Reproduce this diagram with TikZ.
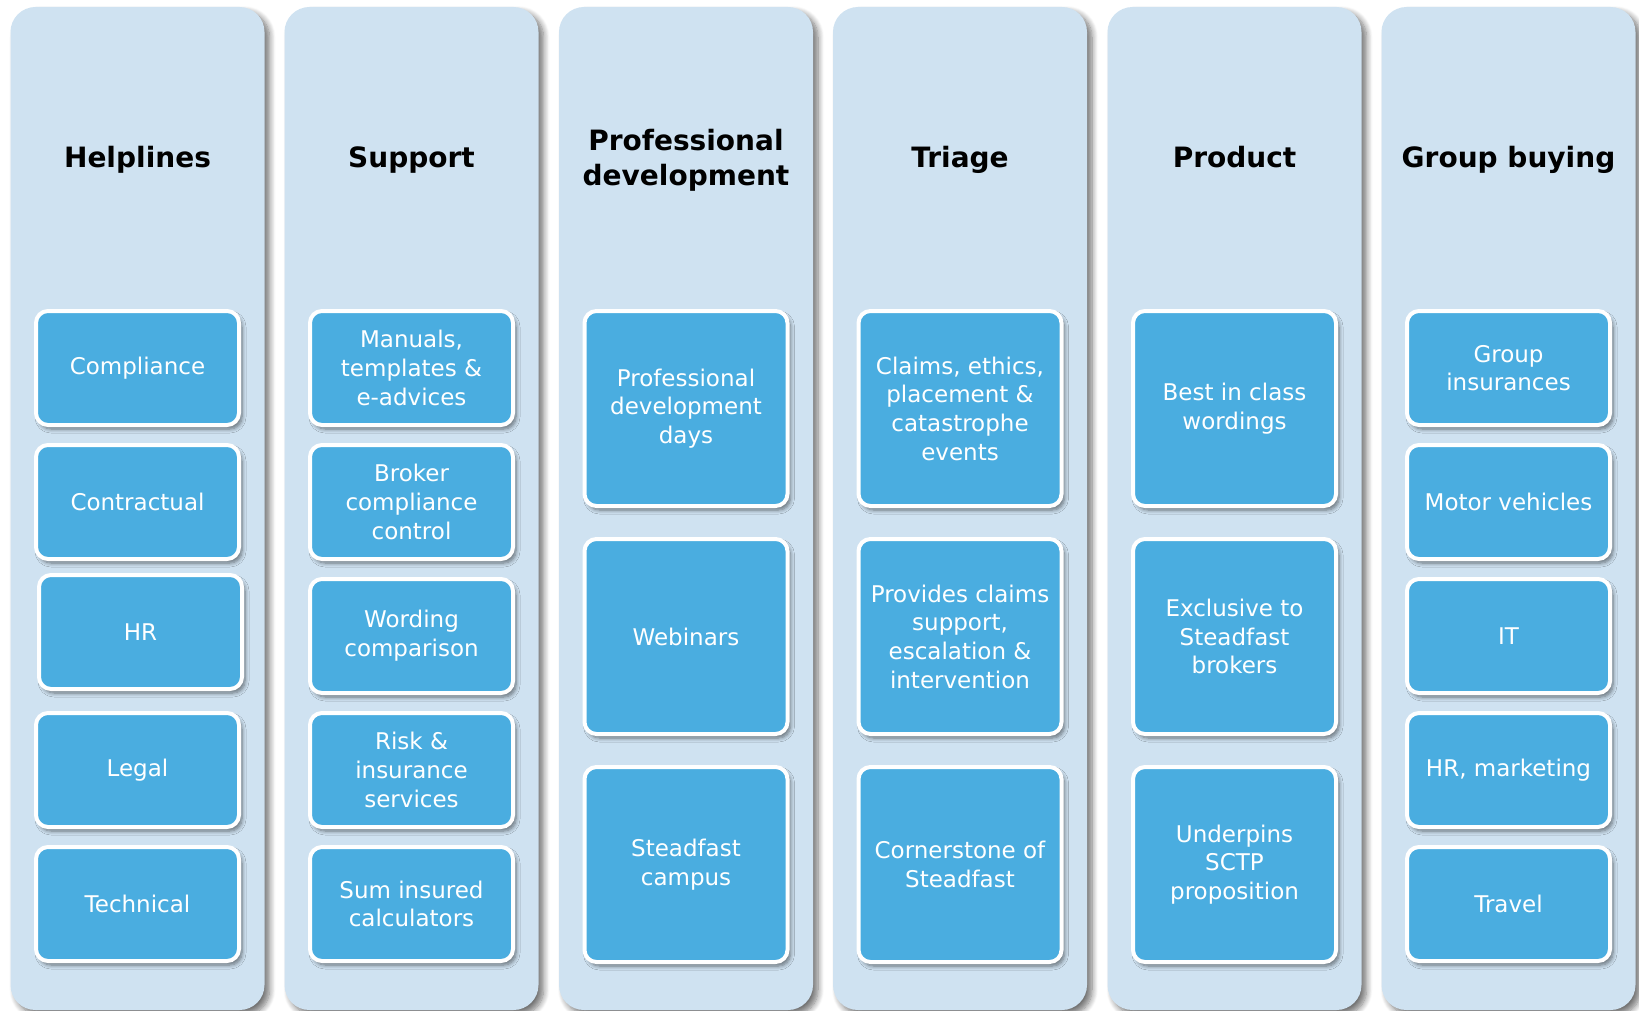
\documentclass[tikz,border=0pt]{standalone}
\usepackage{fontspec}
\setmainfont{DejaVu Sans}
\usetikzlibrary{positioning,shadows.blur}
\definecolor{laneblue}{RGB}{207,226,241}
\definecolor{itemblue}{RGB}{74,173,224}
\tikzstyle{lane} = [
 rectangle,
 fill=laneblue,
 rounded corners=25pt,
 minimum width=254pt,
 minimum height=1003pt,
 blur shadow={shadow xshift=5pt, shadow yshift=-5pt, shadow blur radius=6pt, shadow blur steps=8, shadow opacity=55}
]
\tikzstyle{heading} = [
 align = center,
 font=\fontsize{28}{35}\selectfont\bfseries
]
\tikzstyle{item} = [
 rectangle,
 draw=white,
 line width=4pt,
 fill=itemblue,
 text=white,
 rounded corners=12pt,
 align = center,
 minimum width=203pt,
 minimum height=114pt,
 font=\fontsize{23}{28.7}\selectfont,
 blur shadow={shadow xshift=3pt, shadow yshift=-4pt, shadow blur radius=4pt, shadow blur steps=6, shadow opacity=50}
]
\tikzstyle{bigItem} = [
 item,
 minimum height=195pt
]

\begin{document}
\begin{tikzpicture}[x=1pt, y=-1pt, node distance=16pt]
  \useasboundingbox (0,0) rectangle (1639,1011);
  % lanes
  \node [lane] (helplines) at (137.5,508.5) {};
  \node [lane] (support) at (411.5,508.5) {};
  \node [lane] (profdev) at (686,508.5) {};
  \node [lane] (triage) at (960,508.5) {};
  \node [lane] (product) at (1234.5,508.5) {};
  \node [lane] (buying) at (1508.5,508.5) {};
  % headings
  \node [heading] (hHelplines) at (137.5,160) {Helplines};
  \node [heading] (hSupport) at (411.5,160) {Support};
  \node [heading] (hProfdev) at (686,160) {Professional\\development};
  \node [heading] (hTriage) at (960,160) {Triage};
  \node [heading] (hProduct) at (1234.5,157) {Product};
  \node [heading] (hBuying) at (1508.5,160) {Group buying};
  % helplines
  \node [item] (compliance) at (137.5,368) {Compliance};
  \node [item, below=of compliance] (contractual) {Contractual};
  \node [item, below=12pt of contractual, xshift=3pt] (hr) {HR};
  \node [item, below=20pt of hr, xshift=-3pt] (legal) {Legal};
  \node [item, below=of legal] (technical) {Technical};
  % support
  \node [item] (manuals) at (411.5,368) {Manuals,\\templates \&\\e-advices};
  \node [item, below=of manuals] (broker) {Broker\\compliance\\control};
  \node [item, below=of broker] (wording) {Wording\\comparison};
  \node [item, below=of wording] (risk) {Risk \&\\insurance\\services};
  \node [item, below=of risk] (suminsured) {Sum insured\\calculators};
  % professional development
  \node [bigItem] (pdDays) at (686,408.5) {Professional\\development\\days};
  \node [bigItem, below=29pt of pdDays] (webinars) {Webinars};
  \node [bigItem, below=29pt of webinars] (campus) {Steadfast\\campus};
  % triage
  \node [bigItem] (claims) at (960,408.5) {Claims, ethics,\\placement \&\\catastrophe\\events};
  \node [bigItem, below=29pt of claims] (escalation) {Provides claims\\support,\\escalation \&\\intervention};
  \node [bigItem, below=29pt of escalation] (cornerstone) {Cornerstone of\\Steadfast};
  % product
  \node [bigItem] (wordings) at (1234.5,408.5) {Best in class\\wordings};
  \node [bigItem, below=29pt of wordings] (exclusive) {Exclusive to\\Steadfast\\brokers};
  \node [bigItem, below=29pt of exclusive] (sctp) {Underpins\\SCTP\\proposition};
  % group buying
  \node [item] (insurances) at (1508.5,368) {Group\\insurances};
  \node [item, below=of insurances] (motor) {Motor vehicles};
  \node [item, below=of motor] (it) {IT};
  \node [item, below=of it] (marketing) {HR, marketing};
  \node [item, below=of marketing] (travel) {Travel};
\end{tikzpicture}
\end{document}
